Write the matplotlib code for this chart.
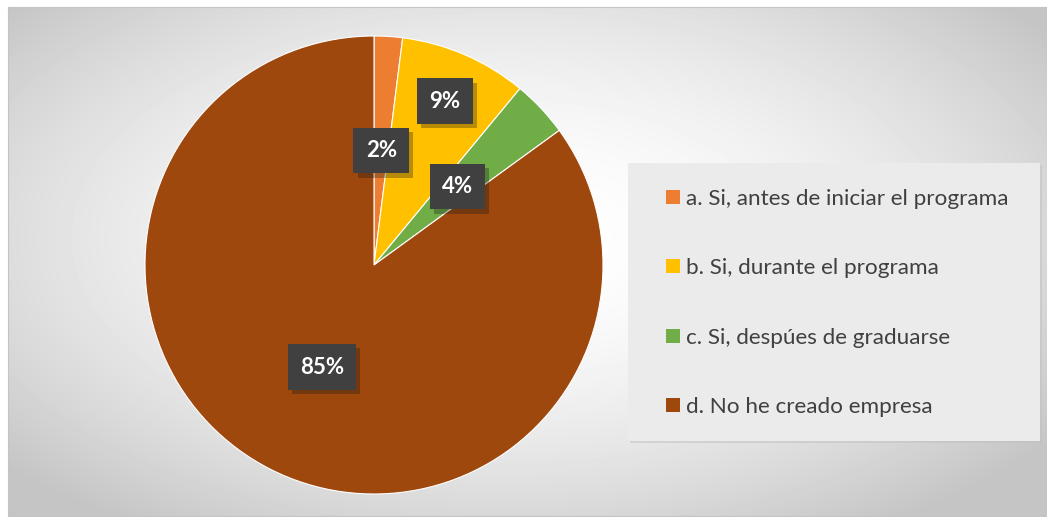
import numpy as np
import matplotlib
matplotlib.use('Agg')
import matplotlib.pyplot as plt
import matplotlib.patheffects as pe
from matplotlib.patches import Rectangle, Patch

labels = ['a. Si, antes de iniciar el programa', 'b. Si, durante el programa',
          'c. Si, despúes de graduarse', 'd. No he creado empresa']
values = [2, 9, 4, 85]
colors = ['#ED7D31', '#FFC000', '#70AD47', '#9E480E']

plt.rcParams['font.family'] = ['Lato', 'DejaVu Sans']

W, H = 1047, 517
fig = plt.figure(figsize=(W / 100, H / 100), dpi=100)

# chart area background: soft radial gradient
bg = fig.add_axes([8 / W, 1 / H, (W - 8) / W, (H - 8) / H])
yy, xx = np.mgrid[0:H - 8, 0:W - 8]
t = np.sqrt(((xx - 500) / 640.0) ** 2 + ((yy - 230) / 330.0) ** 2)
shade = np.clip(1 - 0.21 * t ** 1.8, 0.77, 1)
bg.imshow(shade, cmap='gray', vmin=0, vmax=1, aspect='auto', interpolation='bilinear')
bg.set_xticks([])
bg.set_yticks([])
for s in bg.spines.values():
    s.set_color('#c4c4c4')
    s.set_linewidth(0.8)

# legend panel
fig.patches.append(Rectangle((630 / W, 74 / H), 412 / W, 278 / H, transform=fig.transFigure,
                             facecolor='#c0c0c0', edgecolor='none', alpha=0.5, zorder=1))
fig.patches.append(Rectangle((628 / W, 76 / H), 412 / W, 278 / H, transform=fig.transFigure,
                             facecolor='#ebebeb', edgecolor='none', zorder=1))

# pie
ax = fig.add_axes([145 / W, 23 / H, 458 / W, 458 / H])
wedges, texts, autotexts = ax.pie(values, colors=colors, startangle=90, counterclock=False,
                                  autopct='%1.0f%%', pctdistance=0.5,
                                  wedgeprops=dict(edgecolor='white', linewidth=0.8),
                                  textprops=dict(color='white', fontsize=16, fontweight='bold'))
ax.set_xlim(-1, 1)
ax.set_ylim(-1, 1)
ax.set_aspect('equal')

# the 9% label sits further out
w = wedges[1]
ang = np.deg2rad((w.theta1 + w.theta2) / 2)
autotexts[1].set_position((0.78 * np.cos(ang), 0.78 * np.sin(ang)))

for at in autotexts:
    at.set_bbox(dict(boxstyle='square,pad=0.55', facecolor='#404040', edgecolor='none'))
    at.get_bbox_patch().set_path_effects([pe.SimplePatchShadow(offset=(3, -3), alpha=0.3),
                                          pe.Normal()])

handles = [Patch(facecolor=c, edgecolor='none') for c in colors]
fig.legend(handles, labels, loc='center left', bbox_to_anchor=(646 / W, 214 / H),
           frameon=False, fontsize=16.2, labelspacing=2.2, handlelength=0.6, handleheight=0.6,
           handletextpad=0.3, labelcolor='#404040')

fig.savefig('out.png', dpi=100)
